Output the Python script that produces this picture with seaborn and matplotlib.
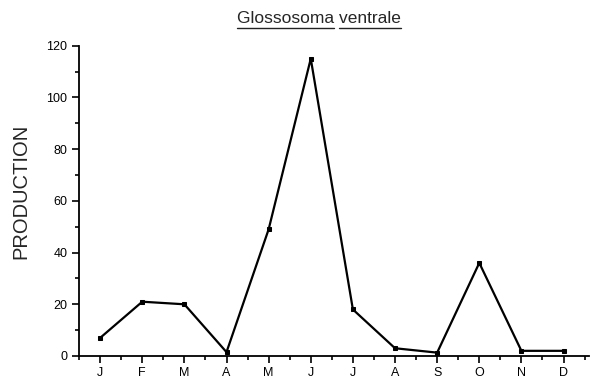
import matplotlib
matplotlib.use("Agg")
import matplotlib.pyplot as plt
from matplotlib.ticker import MultipleLocator
from matplotlib.lines import Line2D
import seaborn as sns
import pandas as pd

months = ["J", "F", "M", "A", "M", "J", "J", "A", "S", "O", "N", "D"]
production = [7, 21, 20, 1.5, 49, 115, 18, 3, 1.3, 36, 2, 2]
yticks = [0, 20, 40, 60, 80, 100, 120]

sns.set_style("ticks")
plt.rcParams["font.family"] = ["Liberation Sans", "DejaVu Sans"]

df = pd.DataFrame({"idx": range(len(months)), "production": production})

fig = plt.figure(figsize=(5.9, 3.83), dpi=100)
ax = fig.add_axes([0.134, 0.0705, 0.864, 0.81])

sns.lineplot(data=df, x="idx", y="production", ax=ax, color="black",
             linewidth=1.6, marker="s", markersize=3.5, markeredgecolor="black")

ax.set_xlim(-0.5, 11.6)
ax.set_ylim(0, 120)
ax.set_xticks(range(len(months)))
ax.set_xticklabels(months)
ax.xaxis.set_minor_locator(MultipleLocator(0.5))
ax.set_yticks(yticks)
ax.yaxis.set_minor_locator(MultipleLocator(10))
ax.tick_params(axis="both", which="major", direction="out", length=5, width=1.2,
               labelsize=9, color="black", labelcolor="black")
ax.tick_params(axis="both", which="minor", direction="out", length=3, width=1.2, color="black")
ax.tick_params(axis="x", pad=3)
ax.set_xlabel("")
ax.set_ylabel("PRODUCTION", fontsize=14.5)
ax.yaxis.set_label_coords(-0.095, 0.53)
for side in ["top", "right"]:
    ax.spines[side].set_visible(False)
for side in ["left", "bottom"]:
    ax.spines[side].set_linewidth(1.3)
    ax.spines[side].set_color("black")

# title with underlined words
ty = 0.94
title = fig.text(0.541, ty, "Glossosoma ventrale", ha="center", va="baseline", fontsize=12.5)
fig.canvas.draw()
r = fig.canvas.get_renderer()
bb = title.get_window_extent(r)
tmp1 = fig.text(0, 0, "Glossosoma", fontsize=12.5)
tmp2 = fig.text(0, 0, "ventrale", fontsize=12.5)
w1 = tmp1.get_window_extent(r).width
w2 = tmp2.get_window_extent(r).width
tmp1.remove(); tmp2.remove()
W, H = fig.bbox.width, fig.bbox.height
yline = ty - 5 / H
fig.add_artist(Line2D([bb.x0 / W, (bb.x0 + w1) / W], [yline, yline], color="#222222", lw=1.0))
fig.add_artist(Line2D([(bb.x1 - w2) / W, bb.x1 / W], [yline, yline], color="#222222", lw=1.0))

fig.savefig("out.png", dpi=100)
